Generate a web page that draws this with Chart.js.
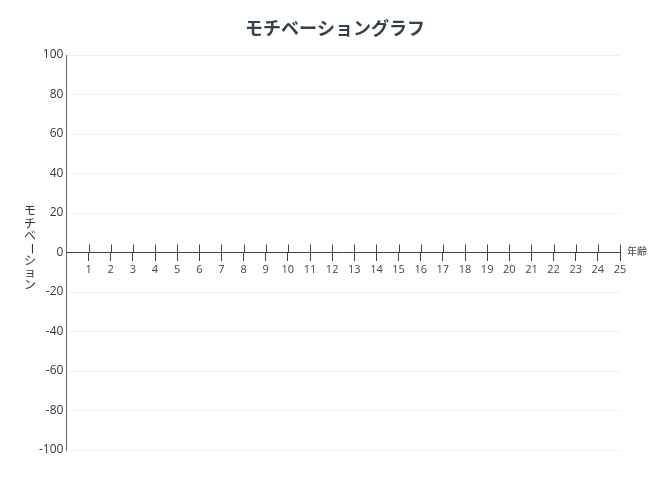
<!DOCTYPE html>
<html>
<head>
<meta charset="utf-8">
<script src="https://cdn.jsdelivr.net/npm/chart.js@4"></script>
<style>
  html, body { margin: 0; padding: 0; background: #fff; }
  #wrap { width: 670px; height: 480px; }
</style>
</head>
<body>
<div id="wrap"><canvas id="motivationChart" width="670" height="480"></canvas></div>
<script>
// ages on the x axis, motivation values (none plotted in the reference)
const ages = [1, 2, 3, 4, 5, 6, 7, 8, 9, 10, 11, 12, 13, 14, 15, 16, 17, 18, 19, 20, 21, 22, 23, 24, 25];
const motivation = [];
const yTicks = [-100, -80, -60, -40, -20, 0, 20, 40, 60, 80, 100];

const chartTitle = 'モチベーショングラフ';
const xTitle = '年齢';
const yTitle = ['モ', 'チ', 'ベ', 'ー', 'シ', 'ョ', 'ン'];

const fontFamily = "'Open Sans', 'Noto Sans CJK JP', sans-serif";
const axisColor = '#444';
const textColor = '#34404d';

// title centred on the page, ticks that cross the zero line, axis labels
const axisDecor = {
    id: 'axisDecor',
    afterDraw(chart) {
        const ctx = chart.ctx;
        const x = chart.scales.x;
        const y = chart.scales.y;
        const y0 = y.getPixelForValue(0);

        ctx.save();
        ctx.fillStyle = textColor;
        ctx.font = 'bold 18px ' + fontFamily;
        ctx.textAlign = 'center';
        ctx.textBaseline = 'middle';
        ctx.fillText(chartTitle, chart.width / 2, 30);

        ctx.strokeStyle = axisColor;
        ctx.lineWidth = 1;
        x.ticks.forEach(t => {
            const px = Math.round(x.getPixelForValue(t.value)) + 0.5;
            ctx.beginPath();
            ctx.moveTo(px, y0 - 8);
            ctx.lineTo(px, y0);
            ctx.stroke();
        });

        ctx.fillStyle = axisColor;
        ctx.font = '10px ' + fontFamily;
        ctx.textAlign = 'left';
        ctx.fillText(xTitle, x.right + 7, y0);

        // vertical y title, one character per row
        ctx.fillStyle = '#333';
        ctx.font = '12px ' + fontFamily;
        ctx.textAlign = 'center';
        const step = 12.3;
        const startY = y0 - step * 3.3;
        yTitle.forEach((ch, i) => {
            const cy = startY + i * step;
            if (ch === 'ー') {
                ctx.save();
                ctx.translate(30, cy);
                ctx.rotate(Math.PI / 2);
                ctx.fillText(ch, 0, 0);
                ctx.restore();
            } else {
                ctx.fillText(ch, 30, cy);
            }
        });
        ctx.restore();
    }
};

const ctx = document.getElementById('motivationChart').getContext('2d');
const motivationChart = new Chart(ctx, {
    type: 'scatter',
    data: {
        datasets: [{
            label: 'モチベーション',
            data: motivation.map((v, i) => ({ x: ages[i], y: v })),
            showLine: true,
            borderColor: '#636efa',
            backgroundColor: '#636efa'
        }]
    },
    options: {
        responsive: false,
        animation: false,
        layout: {
            padding: { left: 36, right: 50, top: 55, bottom: 30 }
        },
        plugins: {
            legend: { display: false },
            tooltip: { enabled: false },
            title: { display: false }
        },
        scales: {
            x: {
                type: 'linear',
                min: 0,
                max: 25,
                position: { y: 0 },
                afterBuildTicks: scale => {
                    scale.ticks = ages.map(v => ({ value: v }));
                },
                ticks: {
                    color: axisColor,
                    font: { family: fontFamily, size: 11 },
                    padding: 3,
                    maxRotation: 0,
                    autoSkip: false
                },
                grid: {
                    drawOnChartArea: false,
                    drawTicks: true,
                    tickLength: 8,
                    tickColor: axisColor
                },
                border: { color: axisColor, width: 1 }
            },
            y: {
                type: 'linear',
                min: -100,
                max: 100,
                afterBuildTicks: scale => {
                    scale.ticks = yTicks.map(v => ({ value: v }));
                },
                ticks: {
                    color: '#2f3a46',
                    font: { family: fontFamily, size: 12 },
                    padding: 3
                },
                grid: {
                    color: '#f0f0f0',
                    drawTicks: false
                },
                border: { color: '#666', width: 1 }
            }
        }
    },
    plugins: [axisDecor]
});
</script>
</body>
</html>
